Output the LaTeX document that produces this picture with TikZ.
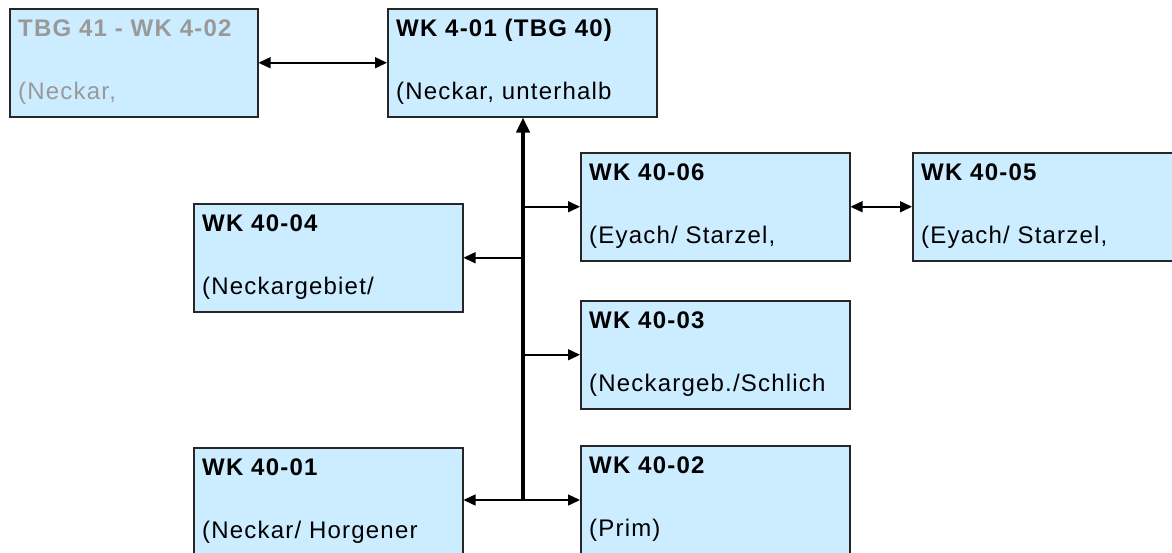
\documentclass[tikz,border=0pt]{standalone}
\usepackage{fontspec}
\setmainfont{Liberation Sans}[LetterSpace=5]
\usetikzlibrary{arrows.meta}
\definecolor{boxblue}{HTML}{CCECFF}
\definecolor{boxline}{HTML}{262626}
\definecolor{fadetext}{HTML}{999999}

\tikzset{
  wk/.style = {draw = boxline, fill = boxblue, line width = 1.5pt, anchor = north west, inner sep = 0, minimum width = 269pt, minimum height = 108pt},
  ttl/.style = {anchor = base west, inner sep = 0, font = \fontsize{24}{28}\selectfont\bfseries},
  sub/.style = {anchor = base west, inner sep = 0, font = \fontsize{24}{28}\selectfont},
  link/.style = {line width = 1.5pt, -{Triangle[length = 12pt, width = 11pt]}},
  both/.style = {line width = 1.5pt, {Triangle[length = 12pt, width = 11pt]}-{Triangle[length = 12pt, width = 11pt]}},
}

\begin{document}
\begin{tikzpicture}[x = 1pt, y = -1pt]
 \useasboundingbox (0, 0) rectangle (1172, 552);
 \clip (0, 0) rectangle (1172, 552);
 % boxes
 \node [wk, minimum width = 248pt] (tbg41) at (9, 8) {};
 \node [wk] (tbg40) at (387, 8) {};
 \node [wk] (wk4006) at (580, 152) {};
 \node [wk, minimum width = 300pt] (wk4005) at (912, 152) {};
 \node [wk] (wk4004) at (193, 203) {};
 \node [wk] (wk4003) at (580, 300) {};
 \node [wk] (wk4001) at (193, 447) {};
 \node [wk] (wk4002) at (580, 445) {};
 % texts
 \node [ttl, fadetext] (tbg41a) at ([shift = {(9, 28)}]tbg41.north west) {TBG 41 - WK 4-02};
 \node [sub, fadetext] (tbg41b) at ([shift = {(9, 91)}]tbg41.north west) {(Neckar,};
 \node [ttl] (tbg40a) at ([shift = {(9, 28)}]tbg40.north west) {WK 4-01 (TBG 40)};
 \node [sub] (tbg40b) at ([shift = {(9, 91)}]tbg40.north west) {(Neckar, unterhalb};
 \node [ttl] (wk4006a) at ([shift = {(9, 28)}]wk4006.north west) {WK 40-06};
 \node [sub] (wk4006b) at ([shift = {(9, 91)}]wk4006.north west) {(Eyach/ Starzel,};
 \node [ttl] (wk4005a) at ([shift = {(9, 28)}]wk4005.north west) {WK 40-05};
 \node [sub] (wk4005b) at ([shift = {(9, 91)}]wk4005.north west) {(Eyach/ Starzel,};
 \node [ttl] (wk4004a) at ([shift = {(9, 28)}]wk4004.north west) {WK 40-04};
 \node [sub] (wk4004b) at ([shift = {(9, 91)}]wk4004.north west) {(Neckargebiet/};
 \node [ttl] (wk4003a) at ([shift = {(9, 28)}]wk4003.north west) {WK 40-03};
 \node [sub] (wk4003b) at ([shift = {(9, 91)}]wk4003.north west) {(Neckargeb./Schlich};
 \node [ttl] (wk4001a) at ([shift = {(9, 28)}]wk4001.north west) {WK 40-01};
 \node [sub] (wk4001b) at ([shift = {(9, 91)}]wk4001.north west) {(Neckar/ Horgener};
 \node [ttl] (wk4002a) at ([shift = {(9, 28)}]wk4002.north west) {WK 40-02};
 \node [sub] (wk4002b) at ([shift = {(9, 91)}]wk4002.north west) {(Prim)};
 % connectors
 \coordinate (fork) at (523, 500);
 \draw [both] (tbg41.east) -- (tbg40.west);
 \draw [both] (wk4006.east) -- (wk4005.west);
 \draw [link] (fork |- wk4006.west) -- (wk4006.west);
 \draw [link] (fork |- wk4004.east) -- (wk4004.east);
 \draw [link] (fork |- wk4003.west) -- (wk4003.west);
 \draw [link] (fork) -- (fork -| wk4001.east);
 \draw [link] (fork) -- (fork -| wk4002.west);
 \draw [line width = 4pt, -{Triangle[length = 15pt, width = 13pt]}] (fork) -- (fork |- tbg40.south);
\end{tikzpicture}
\end{document}
